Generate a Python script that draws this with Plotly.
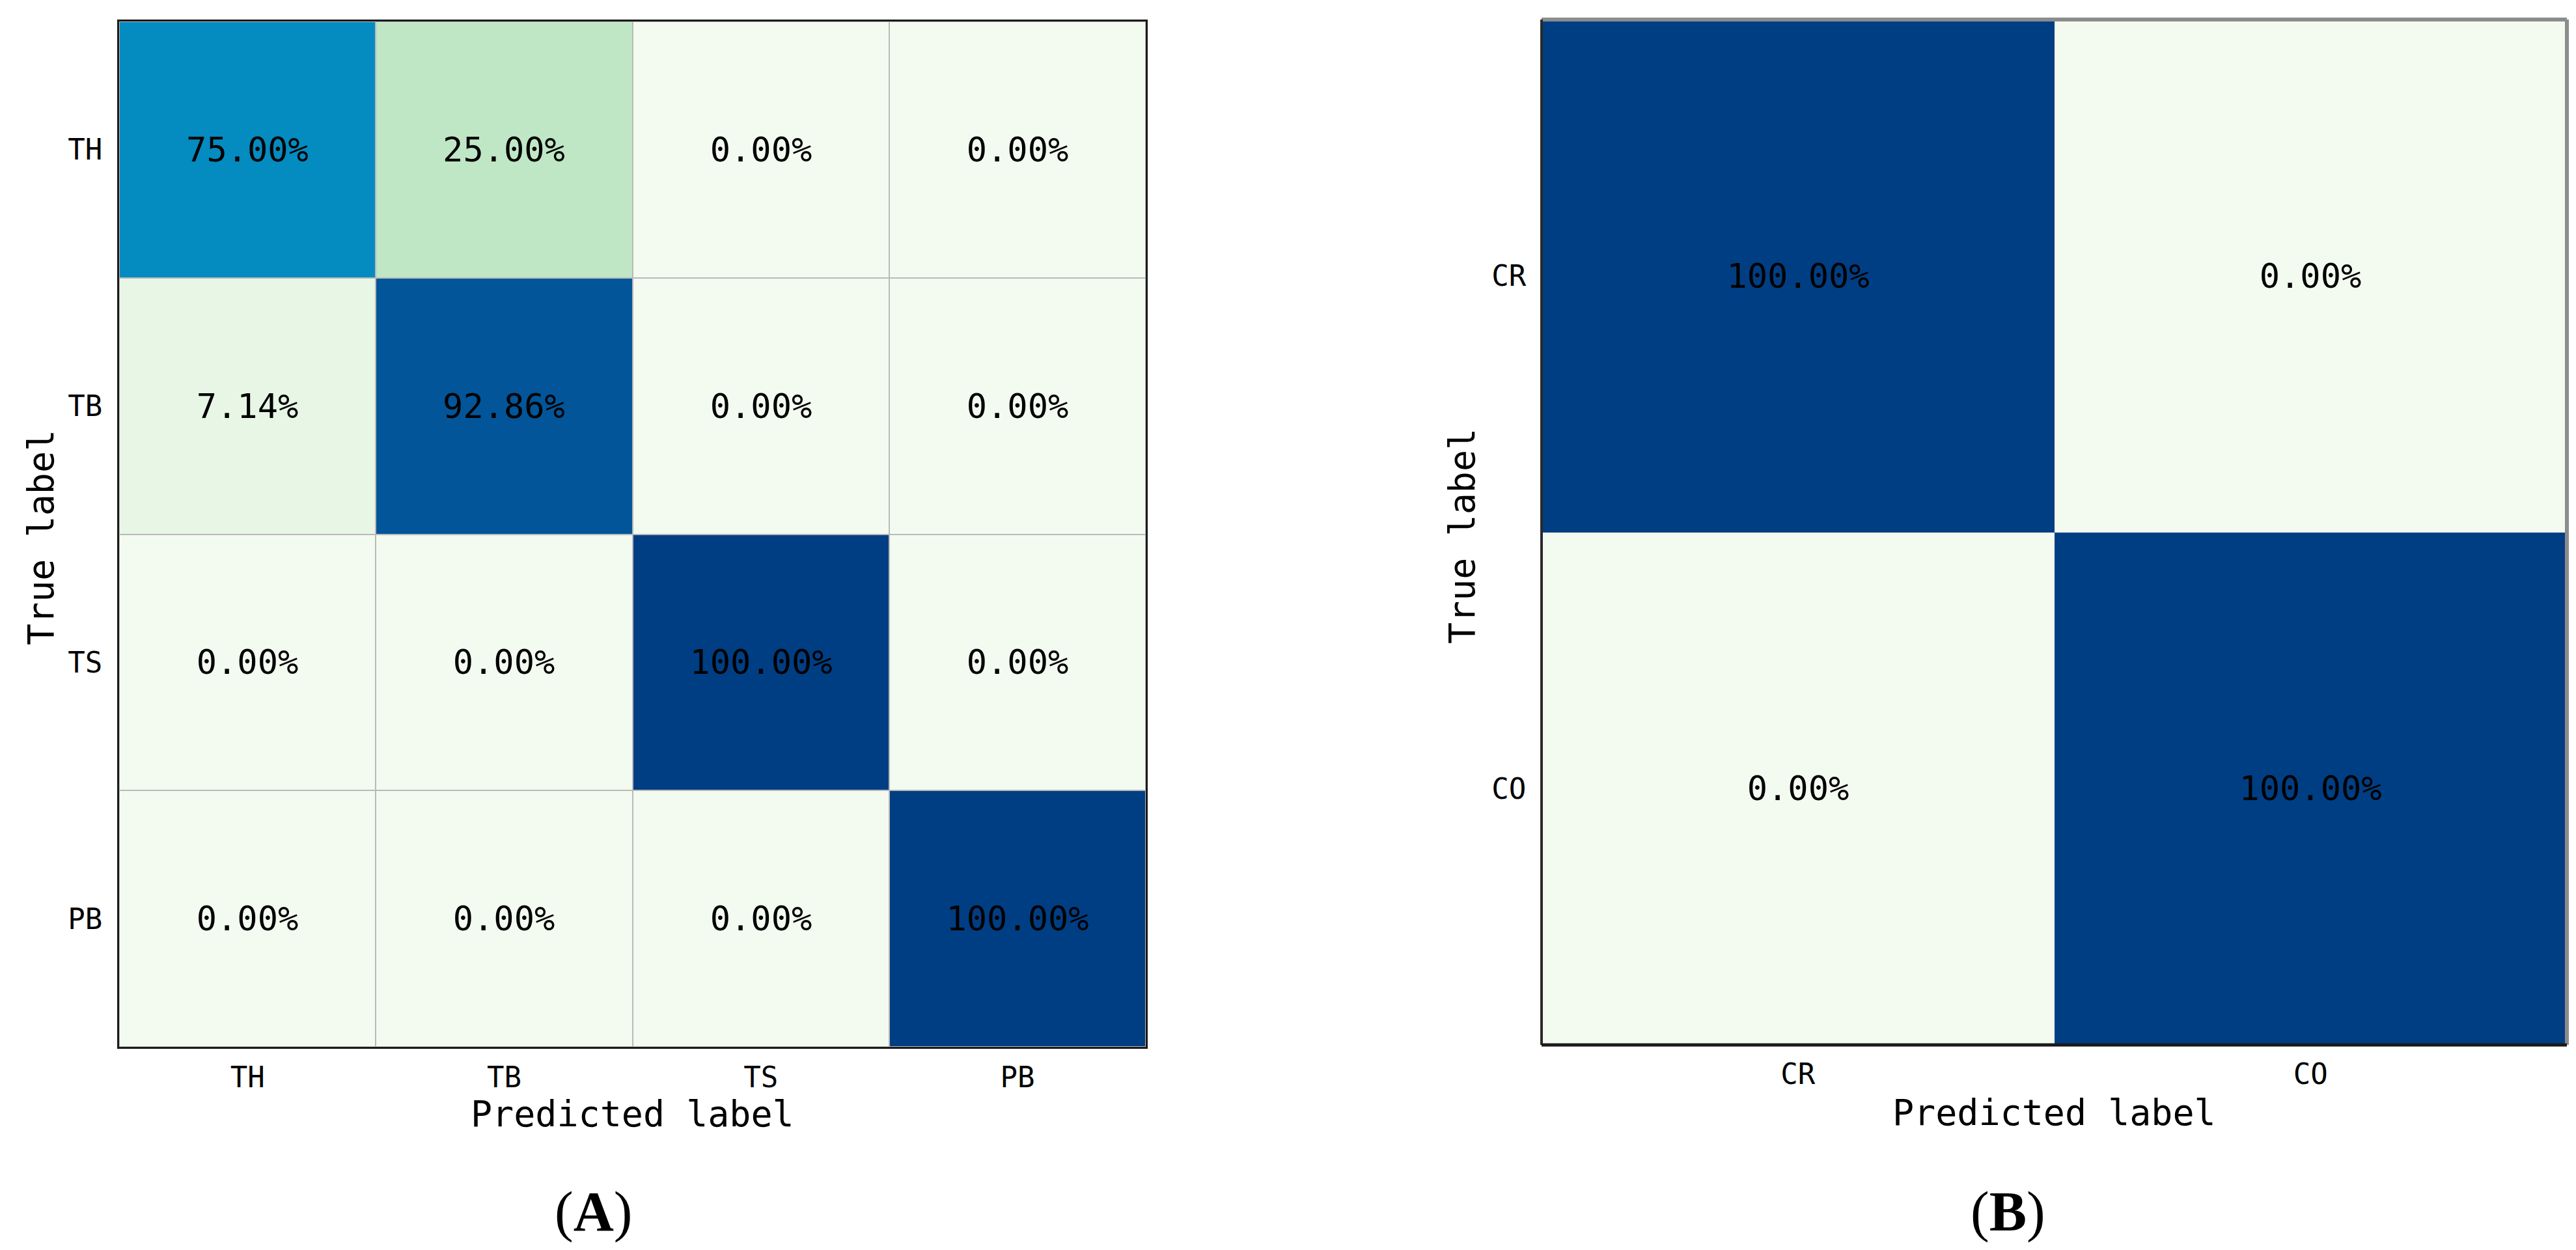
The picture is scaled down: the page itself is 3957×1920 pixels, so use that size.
import plotly.graph_objects as go

# ---------------- data ----------------
labels_a = ["TH", "TB", "TS", "PB"]
cm_a = [
    [75.00, 25.00, 0.00, 0.00],
    [7.14, 92.86, 0.00, 0.00],
    [0.00, 0.00, 100.00, 0.00],
    [0.00, 0.00, 0.00, 100.00],
]
labels_b = ["CR", "CO"]
cm_b = [
    [100.00, 0.00],
    [0.00, 100.00],
]
panel_tags = ["(<b>A</b>)", "(<b>B</b>)"]
x_title = "Predicted label"
y_title = "True label"

# ---------------- style ----------------
W, H = 3957, 1920
mono = "DejaVu Sans Mono"
gnbu = [
    [0.0, "#f3fbf0"], [0.125, "#e0f3dc"], [0.25, "#bfe7c6"], [0.375, "#a8ddb5"],
    [0.5, "#7bccc4"], [0.625, "#4eb3d3"], [0.75, "#048bc0"], [0.875, "#0566a9"],
    [1.0, "#003e84"],
]

def px_x(v):
    return v / W

def px_y(v):
    return 1 - v / H

A_box = (175, 1752, 25, 1600)   # left, right, top, bottom (px)
B_box = (2360, 3935, 22, 1597)

fig = go.Figure()

fig.add_trace(go.Heatmap(
    z=cm_a, x=labels_a, y=labels_a, zmin=0, zmax=100,
    colorscale=gnbu, showscale=False, xgap=2, ygap=2,
    texttemplate="%{z:.2f}%", textfont=dict(family=mono, size=52, color="black"),
    xaxis="x", yaxis="y", hoverinfo="skip",
))
fig.add_trace(go.Heatmap(
    z=cm_b, x=labels_b, y=labels_b, zmin=0, zmax=100,
    colorscale=gnbu, showscale=False,
    texttemplate="%{z:.2f}%", textfont=dict(family=mono, size=52, color="black"),
    xaxis="x2", yaxis="y2", hoverinfo="skip",
))

tickfont = dict(family=mono, size=44, color="black")
common_x = dict(type="category", showgrid=False, zeroline=False, ticks="outside",
                ticklen=6, tickcolor="rgba(0,0,0,0)", tickfont=tickfont, fixedrange=True)
common_y = dict(type="category", showgrid=False, zeroline=False, ticks="outside",
                ticklen=14, tickcolor="rgba(0,0,0,0)", tickfont=tickfont,
                autorange="reversed", fixedrange=True)

fig.update_layout(
    width=W, height=H,
    margin=dict(l=0, r=0, t=0, b=0),
    paper_bgcolor="white", plot_bgcolor="#b9b9b9",
    showlegend=False,
    xaxis=dict(domain=[px_x(A_box[0]), px_x(A_box[1])], anchor="y",
               categoryorder="array", categoryarray=labels_a,
               showline=True, mirror=True, linecolor="#1a1a1a", linewidth=3, **common_x),
    yaxis=dict(domain=[px_y(A_box[3]), px_y(A_box[2])], anchor="x",
               categoryorder="array", categoryarray=labels_a,
               showline=True, mirror=True, linecolor="#1a1a1a", linewidth=3, **common_y),
    xaxis2=dict(domain=[px_x(B_box[0]), px_x(B_box[1])], anchor="y2",
                categoryorder="array", categoryarray=labels_b, showline=False, **common_x),
    yaxis2=dict(domain=[px_y(B_box[3]), px_y(B_box[2])], anchor="x2",
                categoryorder="array", categoryarray=labels_b, showline=False, **common_y),
)

# panel B frame with shadowed look
shapes = []
for (x0, y0, x1, y1, col, w) in [
    (0, 1, 1, 1, "#8c8c8c", 6),   # top
    (1, 0, 1, 1, "#8c8c8c", 6),   # right
    (0, 0, 0, 1, "#2a2a2a", 4),   # left
    (0, 0, 1, 0, "#1a1a1a", 5),   # bottom
]:
    shapes.append(dict(type="line", xref="x2 domain", yref="y2 domain",
                       x0=x0, y0=y0, x1=x1, y1=y1, line=dict(color=col, width=w)))
fig.update_layout(shapes=shapes)

title_font = dict(family=mono, size=55, color="black")
ann = []
# x titles
ann.append(dict(text=x_title, xref="x domain", yref="paper", x=0.5, y=px_y(1703),
                showarrow=False, font=title_font, xanchor="center", yanchor="middle"))
ann.append(dict(text=x_title, xref="x2 domain", yref="paper", x=0.5, y=px_y(1701),
                showarrow=False, font=title_font, xanchor="center", yanchor="middle"))
# y titles
ann.append(dict(text=y_title, xref="paper", yref="paper", x=px_x(55), y=px_y(818),
                showarrow=False, font=title_font, textangle=-90,
                xanchor="center", yanchor="middle"))
ann.append(dict(text=y_title, xref="paper", yref="paper", x=px_x(2238), y=px_y(816),
                showarrow=False, font=title_font, textangle=-90,
                xanchor="center", yanchor="middle"))
# panel tags
tag_font = dict(family="Liberation Serif", size=86, color="black")
ann.append(dict(text=panel_tags[0], xref="paper", yref="paper", x=px_x(903), y=px_y(1853),
                showarrow=False, font=tag_font, xanchor="center", yanchor="middle"))
ann.append(dict(text=panel_tags[1], xref="paper", yref="paper", x=px_x(3076), y=px_y(1853),
                showarrow=False, font=tag_font, xanchor="center", yanchor="middle"))
fig.update_layout(annotations=ann)

fig.write_html("out.html")
